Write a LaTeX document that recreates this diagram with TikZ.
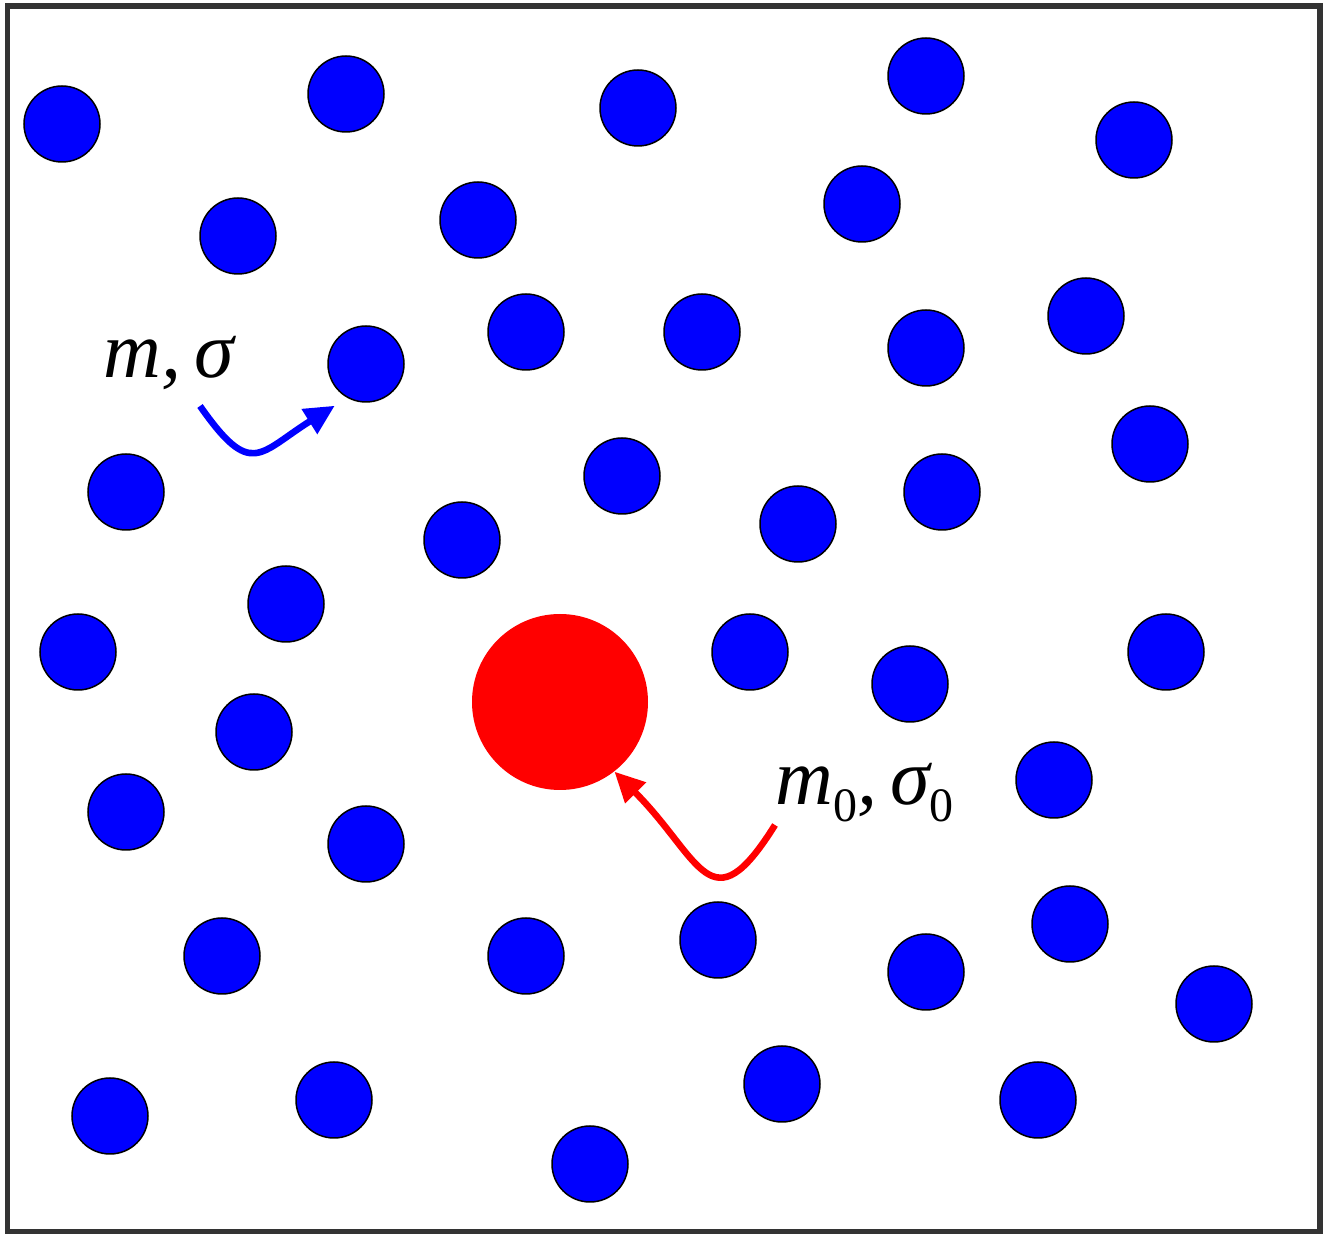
\documentclass[tikz,border=0pt]{standalone}
\usepackage{fontspec}
\setmainfont{Liberation Serif}
\usetikzlibrary{arrows.meta}
\definecolor{framegray}{RGB}{51,51,51}
\newcommand{\zsub}{\raisebox{-8.5pt}{\fontsize{24}{24}\selectfont\upshape 0}}

\begin{document}
\begin{tikzpicture}[x=0.5pt,y=-0.5pt,
    particle/.style={circle,draw=black,line width=0.75pt,fill=blue,minimum size=38pt,inner sep=0pt},
    probe/.style={circle,fill=red,minimum size=88pt,inner sep=0pt},
    lbl/.style={font=\fontsize{40}{42}\selectfont\itshape,inner sep=0pt},
    curvearrow/.style={line width=3.3pt,-{Triangle[length=15pt,width=14pt]}}]
  \useasboundingbox (0,0) rectangle (1330,1234);
  \draw[framegray,line width=2.6pt] (7.5,6) rectangle (1320,1232);

  % small particles
  \foreach \x/\y [count=\i] in {62/124,346/94,638/108,926/76,1134/140,
      238/236,478/220,862/204,526/332,702/332,926/348,1086/316,366/364,
      126/492,622/476,798/524,942/492,1150/444,462/540,286/604,78/652,
      750/652,910/684,1166/652,254/732,1054/780,126/812,366/844,222/956,
      526/956,718/940,926/972,1070/924,1214/1004,110/1116,334/1100,
      782/1084,1038/1100,590/1164}
    \node[particle] (b\i) at (\x,\y) {};

  % big particle
  \node[probe] (red) at (560,702) {};

  % labels
  \node[lbl,anchor=base west] (lb) at (103,378) {m,\,σ};
  \node[lbl,anchor=base west] (lr) at (775,805) {m\zsub,\,σ\zsub};

  \coordinate (sb) at (200,406);
  \coordinate (sr) at (775,825);
  \draw[curvearrow,blue] (sb) to[out=-55,in=-148,looseness=1.7] ([shift={(-9,10)}]b13.-125);
  \draw[curvearrow,red] (sr) to[out=-122,in=-45,looseness=1.85] (red.-52);
\end{tikzpicture}
\end{document}
